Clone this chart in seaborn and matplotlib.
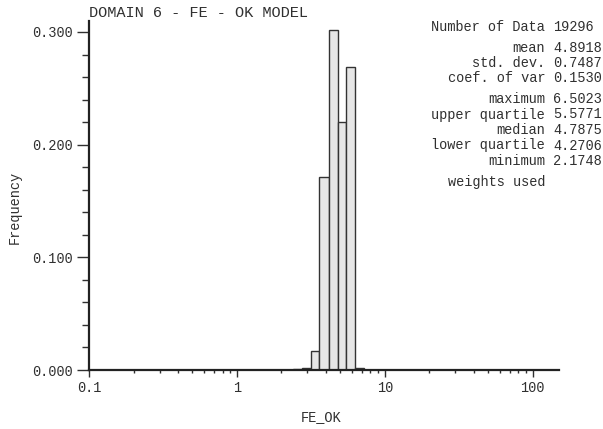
import seaborn as sns
import matplotlib.pyplot as plt
import matplotlib.ticker as mticker
import numpy as np
import pandas as pd

# histogram classes (log-spaced bins)
bin_edges = [2.38, 2.75, 3.15, 3.62, 4.17, 4.80, 5.50, 6.33, 7.28]
frequency = [0.0005, 0.0018, 0.0168, 0.171, 0.302, 0.2205, 0.269, 0.0018]

stat_labels = ["Number of Data", "mean", "std. dev.", "coef. of var",
               "maximum", "upper quartile", "median", "lower quartile", "minimum"]
stat_values = ["19296", "4.8918", "0.7487", "0.1530",
               "6.5023", "5.5771", "4.7875", "4.2706", "2.1748"]
stat_rows_px = [27, 48, 63, 78, 99, 114.5, 130, 145.5, 161]

sns.set_style("ticks")
plt.rcParams['font.family'] = ['Liberation Mono', 'DejaVu Sans Mono']
plt.rcParams['text.color'] = '#303030'

W, H = 603, 429
fig = plt.figure(figsize=(W / 100, H / 100), dpi=100)
ax = fig.add_axes([89 / W, 1 - 370 / H, (559 - 89) / W, (370 - 20.7) / H])

edges = np.array(bin_edges)
data = pd.DataFrame({'FE_OK': np.sqrt(edges[:-1] * edges[1:]), 'freq': frequency})
log_bins = [float(v) for v in np.log10(edges)]
sns.histplot(data=data, x='FE_OK', weights='freq', bins=log_bins, log_scale=True,
             color='#e6e6e6', edgecolor='#333333', linewidth=1.0, alpha=1, ax=ax)

ax.set_xlim(0.1, 151)
ax.set_ylim(0, 0.31)
ax.set_xlabel('')
ax.set_ylabel('')
sns.despine(ax=ax)
for s in ['left', 'bottom']:
    ax.spines[s].set_linewidth(1.6)
    ax.spines[s].set_color('#222222')

ax.xaxis.set_major_locator(mticker.FixedLocator([0.1, 1, 10, 100]))
ax.xaxis.set_major_formatter(mticker.FixedFormatter(['0.1', '1', '10', '100']))
ax.xaxis.set_minor_locator(mticker.LogLocator(base=10, subs=np.arange(2, 10)))
ax.xaxis.set_minor_formatter(mticker.NullFormatter())
ax.yaxis.set_major_locator(mticker.MultipleLocator(0.1))
ax.yaxis.set_minor_locator(mticker.MultipleLocator(0.02))
ax.yaxis.set_major_formatter(mticker.FormatStrFormatter('%.3f'))

ax.tick_params(axis='y', which='major', length=8.4, width=1, pad=3.3, labelsize=9.8, colors='#303030')
ax.tick_params(axis='y', which='minor', length=5, width=1, colors='#303030')
ax.tick_params(axis='x', which='major', length=5, width=1, pad=3, labelsize=9.8, colors='#303030')
ax.tick_params(axis='x', which='minor', length=2.5, width=1, colors='#303030')

fig.text(89 / W, 1 - 13 / H, "DOMAIN 6 - FE - OK MODEL", fontsize=11, ha='left', va='center')
fig.text(321 / W, 1 - 421.5 / H, "FE_OK", fontsize=9.8, ha='center', va='baseline')
fig.text(15 / W, 1 - 207 / H, "Frequency", fontsize=9.8, rotation=90, ha='center', va='center')

for lab, val, y in zip(stat_labels, stat_values, stat_rows_px):
    fig.text(545 / W, 1 - y / H, lab, fontsize=9.8, ha='right', va='center')
    fig.text(553 / W, 1 - y / H, val, fontsize=9.8, ha='left', va='center')
fig.text(545 / W, 1 - 182 / H, "weights used", fontsize=9.8, ha='right', va='center')

fig.savefig('out.png', dpi=100)
